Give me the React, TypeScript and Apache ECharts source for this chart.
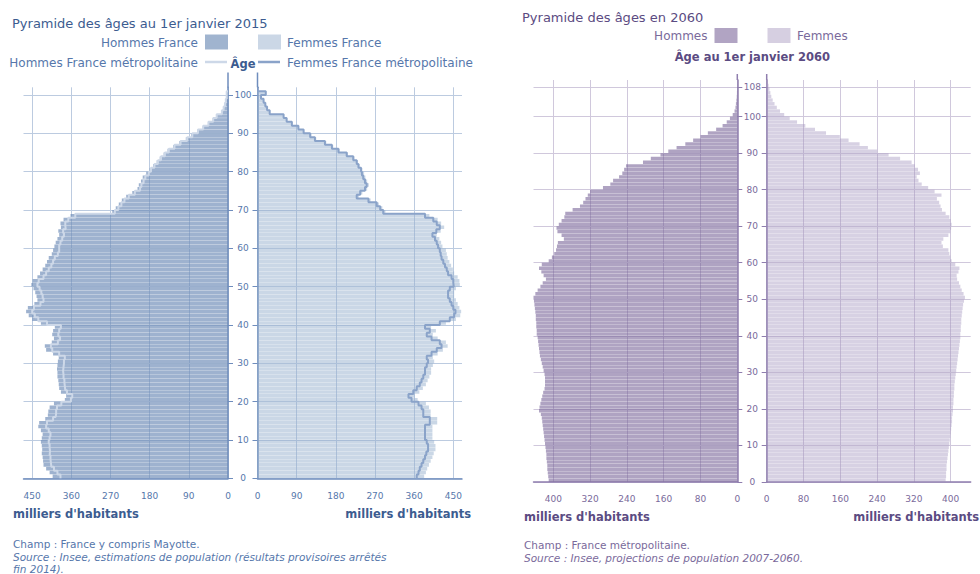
import React, { useEffect, useRef } from "react";
import * as echarts from "echarts";

// ---------- categories & ticks ----------
const AGES_2015: string[] = [];
for (let i = 0; i <= 101; i++) AGES_2015.push(String(i));
const AGES_2060: string[] = [];
for (let i = 0; i <= 109; i++) AGES_2060.push(String(i));

const X_TICKS_2015 = [0, 90, 180, 270, 360, 450];
const X_TICKS_2060 = [0, 80, 160, 240, 320, 400];
const AGE_TICKS_2015 = [0, 10, 20, 30, 40, 50, 60, 70, 80, 90, 100];
const AGE_TICKS_2060 = [0, 10, 20, 30, 40, 50, 60, 70, 80, 90, 100, 108];

// ---------- 2015 (thousands), ages 0..100 ----------
const HOMMES_FRANCE_2015 = [
  403, 410, 418, 424, 425, 426, 428, 427, 428, 430,
  428, 426, 430, 436, 434, 420, 414, 413, 410, 400,
  375, 372, 384, 388, 389, 390, 392, 392, 393, 392,
  391, 389, 402, 418, 421, 405, 400, 404, 402, 398,
  430, 450, 458, 464, 460, 445, 438, 440, 443, 447,
  452, 449, 438, 432, 426, 420, 416, 412, 405, 402,
  399, 396, 392, 388, 390, 384, 385, 378, 362, 266,
  258, 251, 244, 234, 220, 208, 205, 200, 196, 188,
  180, 172, 164, 157, 148, 139, 126, 112, 97, 85,
  70, 58, 46, 35, 27, 15, 11, 8, 6, 4,
  4,
];
const HOMMES_METRO_2015 = [
  385, 392, 400, 406, 407, 408, 410, 409, 410, 412,
  410, 408, 412, 418, 416, 402, 396, 395, 393, 383,
  361, 358, 370, 374, 375, 376, 378, 378, 379, 378,
  377, 375, 388, 404, 407, 391, 386, 390, 388, 384,
  416, 436, 444, 450, 446, 431, 424, 426, 429, 433,
  438, 435, 424, 418, 412, 406, 402, 398, 391, 388,
  388, 385, 381, 377, 379, 373, 374, 367, 351, 260,
  252, 245, 238, 228, 214, 202, 199, 194, 190, 182,
  177, 169, 161, 154, 145, 136, 123, 109, 94, 82,
  69, 57, 45, 34, 26, 14, 10, 7, 5, 3,
  3,
];
const FEMMES_FRANCE_2015 = [
  383, 387, 390, 394, 398, 402, 405, 409, 409, 406,
  402, 402, 402, 402, 413, 413, 398, 398, 394, 387,
  368, 361, 372, 380, 387, 391, 395, 399, 399, 403,
  406, 403, 414, 426, 437, 433, 414, 403, 410, 399,
  433, 456, 466, 468, 464, 460, 456, 452, 452, 456,
  465, 464, 460, 452, 449, 445, 441, 437, 435, 433,
  425, 422, 418, 412, 421, 429, 422, 414, 395, 294,
  287, 279, 260, 233, 241, 252, 256, 252, 248, 245,
  241, 235, 231, 223, 208, 189, 174, 158, 135, 124,
  107, 95, 80, 68, 61, 29, 23, 19, 15, 9,
  20,
];
const FEMMES_METRO_2015 = [
  366, 370, 373, 377, 381, 385, 388, 392, 392, 389,
  385, 385, 385, 385, 396, 396, 381, 381, 377, 370,
  354, 347, 358, 366, 373, 377, 381, 385, 385, 389,
  392, 389, 400, 412, 423, 419, 400, 389, 396, 385,
  419, 442, 452, 455, 450, 446, 442, 438, 438, 442,
  451, 450, 446, 438, 435, 431, 427, 423, 421, 419,
  415, 412, 408, 402, 411, 419, 412, 404, 385, 289,
  282, 274, 255, 228, 236, 247, 251, 247, 243, 240,
  238, 232, 228, 220, 205, 186, 171, 155, 132, 121,
  106, 94, 79, 67, 60, 28, 22, 18, 14, 8,
  19,
];

// ---------- 2060 projections (thousands), ages 0..109 ----------
const HOMMES_2060 = [
  410, 411, 412, 413, 413, 414, 415, 415, 416, 417,
  418, 419, 420, 421, 422, 423, 424, 425, 427, 431,
  430, 428, 426, 424, 422, 419, 418, 418, 418, 419,
  421, 423, 425, 427, 429, 430, 431, 432, 433, 434,
  436, 436, 437, 437, 438, 438, 439, 440, 441, 442,
  443, 439, 434, 428, 423, 416, 421, 426, 431, 425,
  410, 403, 398, 394, 392, 390, 377, 382, 391, 393,
  388, 382, 376, 374, 358, 342, 335, 330, 325, 320,
  292, 276, 270, 257, 250, 246, 242, 205, 188, 167,
  150, 132, 113, 96, 80, 64, 46, 32, 23, 16,
  10, 6, 4, 3, 2, 1.2, 0.8, 0.5, 0.3, 0.2,
];
const FEMMES_2060 = [
  389, 390, 390, 391, 391, 392, 393, 394, 395, 396,
  397, 398, 399, 400, 401, 402, 403, 403, 404, 405,
  405, 406, 406, 407, 407, 408, 408, 409, 410, 411,
  412, 413, 414, 415, 416, 417, 418, 419, 420, 421,
  421, 422, 422, 423, 423, 424, 425, 426, 427, 429,
  431, 428, 424, 421, 418, 414, 413, 417, 419, 410,
  402, 399, 397, 395, 383, 380, 384, 395, 399, 401,
  402, 400, 397, 389, 381, 378, 375, 370, 380, 365,
  351, 337, 330, 326, 333, 329, 322, 315, 290, 265,
  240, 220, 202, 178, 159, 129, 105, 84, 66, 50,
  38, 29, 22, 17, 13, 10, 8, 6, 4, 2,
];

// ---------- styles ----------
const FONT = '"DejaVu Sans", Verdana, sans-serif';
const B_TITLE = "#3c5c90";
const B_TEXT = "#5677ab";
const B_AXIS = "#6f8dbd";
const B_GRID = "#bccbe0";
const B_MALE = "rgba(112,142,184,0.68)";
const B_FEMALE = "rgba(150,175,205,0.5)";
const B_MALE_SW = "#a0b4cf";
const B_FEMALE_SW = "#cbd7e6";
const B_LINE_LIGHT = "#cdd8e8";
const B_LINE_DARK = "#8aa3c9";

const P_TITLE = "#5b4b82";
const P_TEXT = "#7a6a9b";
const P_AXIS = "#8f7eae";
const P_GRID = "#d0c8dc";
const P_MALE = "rgba(118,96,150,0.58)";
const P_FEMALE = "rgba(165,150,192,0.44)";
const P_MALE_SW = "#b1a4c3";
const P_FEMALE_SW = "#d6cfe1";

const BAR_GAP = "7%";

function stepPoints(vals: number[]): number[][] {
  const pts: number[][] = [[0, vals.length]];
  for (let a = vals.length - 1; a >= 0; a--) {
    pts.push([vals[a], a + 1]);
    pts.push([vals[a], a]);
  }
  return pts;
}

function xAxisCfg(gridIndex: number, inverse: boolean, max: number, ticks: number[], axisColor: string, textColor: string, gridColor: string, margin: number) {
  return {
    type: "value",
    gridIndex,
    inverse,
    min: 0,
    max,
    position: "bottom",
    axisLine: { show: true, onZero: false, lineStyle: { color: axisColor, width: 1.5 } },
    axisTick: { show: false, customValues: ticks },
    axisLabel: { customValues: ticks, color: textColor, fontSize: 9, fontFamily: FONT, margin },
    splitLine: { show: true, lineStyle: { color: gridColor, width: 1 } },
  };
}

function catAxis(gridIndex: number, data: string[], position: string) {
  return { type: "category", gridIndex, data, position, show: false, boundaryGap: true };
}

function valAxis(gridIndex: number, max: number, ticks: number[], position: string, showLabel: boolean, axisColor: string, textColor: string, gridColor: string, margin: number) {
  return {
    type: "value",
    gridIndex,
    min: 0,
    max,
    position,
    axisLine: { show: true, onZero: false, lineStyle: { color: axisColor, width: 1.5 } },
    axisTick: { show: true, length: 5, customValues: ticks, lineStyle: { color: axisColor } },
    axisLabel: {
      show: showLabel,
      customValues: ticks,
      align: "center",
      margin,
      color: textColor,
      fontSize: 9,
      fontFamily: FONT,
    },
    splitLine: { show: true, lineStyle: { color: gridColor, width: 1 } },
  };
}

function txt(text: string, x: number, y: number, fill: string, size: number, align = "left", weight = "normal", italic = false) {
  return {
    type: "text",
    x,
    y,
    silent: true,
    style: {
      text,
      fill,
      fontSize: size,
      fontFamily: FONT,
      fontWeight: weight,
      fontStyle: italic ? "italic" : "normal",
      align,
      verticalAlign: "middle",
      textAlign: align,
      textVerticalAlign: "middle",
    },
  };
}

function vline(x: number, y1: number, y2: number, color: string) {
  return { type: "line", silent: true, shape: { x1: x, y1, x2: x, y2 }, style: { stroke: color, lineWidth: 1.5 } };
}
function hline(x1: number, x2: number, y: number, color: string) {
  return { type: "line", silent: true, shape: { x1, y1: y, x2, y2: y }, style: { stroke: color, lineWidth: 2.5 } };
}
function swatch(x: number, y: number, color: string) {
  return { type: "rect", silent: true, shape: { x, y, width: 23, height: 15 }, style: { fill: color } };
}

// geometry
const L_TOP = 87.3;
const L_H = 391;
const R_TOP = 80;
const R_H = 402;

const option: any = {
  animation: false,
  grid: [
    { left: 23.5, top: L_TOP, width: 204.5, height: L_H },
    { left: 257.5, top: L_TOP, width: 204.5, height: L_H },
    { left: 533.5, top: R_TOP, width: 203.8, height: R_H },
    { left: 766.7, top: R_TOP, width: 204, height: R_H },
  ],
  xAxis: [
    xAxisCfg(0, true, 470, X_TICKS_2015, B_AXIS, B_TEXT, B_GRID, 13),
    xAxisCfg(1, false, 470, X_TICKS_2015, B_AXIS, B_TEXT, B_GRID, 13),
    xAxisCfg(2, true, 443, X_TICKS_2060, P_AXIS, P_TEXT, P_GRID, 12),
    xAxisCfg(3, false, 443.5, X_TICKS_2060, P_AXIS, P_TEXT, P_GRID, 12),
  ],
  yAxis: [
    catAxis(0, AGES_2015, "left"),
    valAxis(0, 102, AGE_TICKS_2015, "right", false, B_AXIS, B_TEXT, B_GRID, 14.5),
    catAxis(1, AGES_2015, "right"),
    valAxis(1, 102, AGE_TICKS_2015, "left", true, B_AXIS, B_TEXT, B_GRID, 14.5),
    catAxis(2, AGES_2060, "left"),
    valAxis(2, 110, AGE_TICKS_2060, "right", false, P_AXIS, P_TEXT, P_GRID, 14.4),
    catAxis(3, AGES_2060, "right"),
    valAxis(3, 110, AGE_TICKS_2060, "left", true, P_AXIS, P_TEXT, P_GRID, 14.4),
  ],
  series: [
    {
      name: "Hommes France",
      type: "bar",
      xAxisIndex: 0,
      yAxisIndex: 0,
      data: HOMMES_FRANCE_2015,
      barCategoryGap: BAR_GAP,
      itemStyle: { color: B_MALE },
      z: 2,
    },
    {
      name: "Femmes France",
      type: "bar",
      xAxisIndex: 1,
      yAxisIndex: 2,
      data: FEMMES_FRANCE_2015,
      barCategoryGap: BAR_GAP,
      itemStyle: { color: B_FEMALE },
      z: 2,
    },
    {
      name: "Hommes France métropolitaine",
      type: "line",
      xAxisIndex: 0,
      yAxisIndex: 1,
      data: stepPoints(HOMMES_METRO_2015),
      showSymbol: false,
      symbol: "none",
      lineStyle: { color: B_LINE_LIGHT, width: 2 },
      z: 3,
    },
    {
      name: "Femmes France métropolitaine",
      type: "line",
      xAxisIndex: 1,
      yAxisIndex: 3,
      data: stepPoints(FEMMES_METRO_2015),
      showSymbol: false,
      symbol: "none",
      lineStyle: { color: B_LINE_DARK, width: 2 },
      z: 3,
    },
    {
      name: "Hommes",
      type: "bar",
      xAxisIndex: 2,
      yAxisIndex: 4,
      data: HOMMES_2060,
      barCategoryGap: BAR_GAP,
      itemStyle: { color: P_MALE },
      z: 2,
    },
    {
      name: "Femmes",
      type: "bar",
      xAxisIndex: 3,
      yAxisIndex: 6,
      data: FEMMES_2060,
      barCategoryGap: BAR_GAP,
      itemStyle: { color: P_FEMALE },
      z: 2,
    },
  ],
  graphic: [
    // left chart
    txt("Pyramide des âges au 1er janvier 2015", 12, 23.5, B_TITLE, 13),
    txt("Hommes France", 198, 42.5, B_TEXT, 12, "right"),
    swatch(205, 34.5, B_MALE_SW),
    swatch(258, 34.5, B_FEMALE_SW),
    txt("Femmes France", 287, 42.5, B_TEXT, 12, "left"),
    txt("Hommes France métropolitaine", 198, 62.5, B_TEXT, 12, "right"),
    hline(205, 227, 62, B_LINE_LIGHT),
    txt("Âge", 243, 64, B_TITLE, 11.5, "center", "bold"),
    hline(258, 280, 62, B_LINE_DARK),
    txt("Femmes France métropolitaine", 287, 62.5, B_TEXT, 12, "left"),
    vline(228, 72.5, L_TOP, B_AXIS),
    vline(257.5, 72.5, L_TOP, B_AXIS),
    txt("milliers d'habitants", 13, 513.5, B_TITLE, 11.5, "left", "bold"),
    txt("milliers d'habitants", 471, 513.5, B_TITLE, 11.5, "right", "bold"),
    txt("Champ : France y compris Mayotte.", 13, 543.5, B_TEXT, 10.5),
    txt("Source : Insee, estimations de population (résultats provisoires arrêtés", 13, 556.5, B_TEXT, 10.5, "left", "normal", true),
    txt("fin 2014).", 13, 568.5, B_TEXT, 10.5, "left", "normal", true),
    // right chart
    txt("Pyramide des âges en 2060", 522, 17.5, P_TITLE, 13),
    txt("Hommes", 707.5, 36, P_TEXT, 12, "right"),
    swatch(714.5, 28, P_MALE_SW),
    swatch(767.5, 28, P_FEMALE_SW),
    txt("Femmes", 797, 36, P_TEXT, 12, "left"),
    txt("Âge au 1er janvier 2060", 752.3, 56.5, P_TITLE, 11.5, "center", "bold"),
    vline(737.3, 74, R_TOP, P_AXIS),
    vline(766.7, 74, R_TOP, P_AXIS),
    txt("milliers d'habitants", 524, 516.5, P_TITLE, 11.5, "left", "bold"),
    txt("milliers d'habitants", 979, 516.5, P_TITLE, 11.5, "right", "bold"),
    txt("Champ : France métropolitaine.", 524, 545, P_TEXT, 10.5),
    txt("Source : Insee, projections de population 2007-2060.", 524, 557.5, P_TEXT, 10.5, "left", "normal", true),
  ],
};

export default function App() {
  const ref = useRef<HTMLDivElement>(null);
  useEffect(() => {
    document.body.style.margin = "0";
    const chart = echarts.init(ref.current as HTMLDivElement, null, { renderer: "svg" });
    chart.setOption(option);
    return () => chart.dispose();
  }, []);
  return <div ref={ref} style={{ width: 980, height: 574 }} />;
}
